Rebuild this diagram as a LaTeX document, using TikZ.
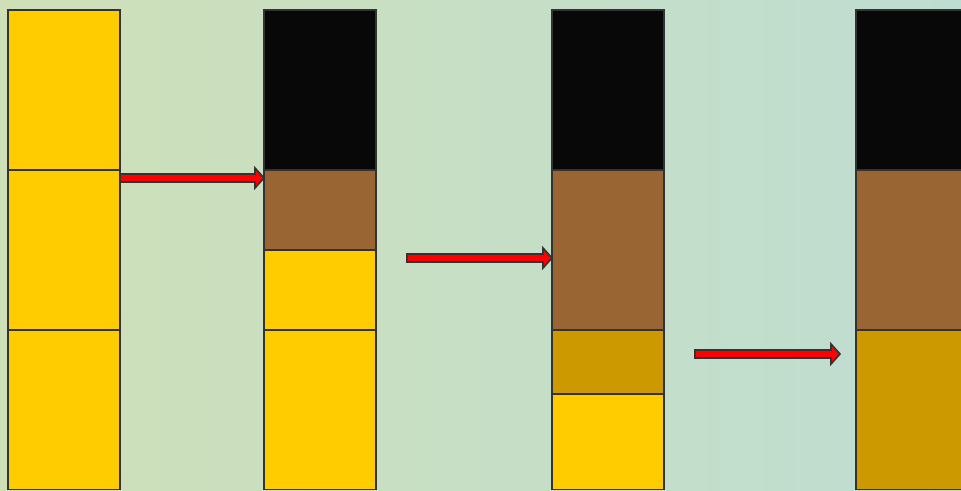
\documentclass[tikz,border=0pt]{standalone}
\usetikzlibrary{calc}
\definecolor{bggreen}{HTML}{C8E2C4}
\definecolor{bgblue}{HTML}{BEDDD2}
\definecolor{bgyel}{HTML}{CFE0B8}
\definecolor{layyellow}{HTML}{FFCC00}
\definecolor{layblack}{HTML}{080808}
\definecolor{laybrown}{HTML}{996633}
\definecolor{laygold}{HTML}{CC9900}
\definecolor{edgegray}{HTML}{333333}
\definecolor{arrowred}{HTML}{FF0000}
\tikzset{
  layer/.style={draw=edgegray, line width=1.6pt, inner sep=0pt, outer sep=0pt,
    anchor=north west, minimum width=112pt},
  fatarrow/.style={fill=arrowred, draw=edgegray, line width=1.6pt, line join=miter}
}
\newcommand\fatarrowpath[2]{%
  \draw[fatarrow] ($(#1)+(0,-4)$) -- ($(#2)+(-9,-4)$) -- ($(#2)+(-9,-10)$) -- (#2)
    -- ($(#2)+(-9,10)$) -- ($(#2)+(-9,4)$) -- ($(#1)+(0,4)$) -- cycle;}
\begin{document}
\begin{tikzpicture}[x=1pt,y=-1pt]
\useasboundingbox (0,0) rectangle (961,490);
\clip (0,0) rectangle (961,490);
\shade[left color=bgyel, middle color=bggreen, right color=bgblue] (0,0) rectangle (961,490);
% column 1
\node[layer, fill=layyellow, minimum height=160pt] (c1a) at (8,10) {};
\node[layer, fill=layyellow, minimum height=160pt] (c1b) at (8,170) {};
\node[layer, fill=layyellow, minimum height=159.5pt] (c1c) at (8,330) {};
% column 2
\node[layer, fill=layblack, minimum height=160pt] (c2a) at (264,10) {};
\node[layer, fill=laybrown, minimum height=80pt] (c2b) at (264,170) {};
\node[layer, fill=layyellow, minimum height=80pt] (c2c) at (264,250) {};
\node[layer, fill=layyellow, minimum height=159.5pt] (c2d) at (264,330) {};
% column 3
\node[layer, fill=layblack, minimum height=160pt] (c3a) at (552,10) {};
\node[layer, fill=laybrown, minimum height=160pt] (c3b) at (552,170) {};
\node[layer, fill=laygold, minimum height=64pt] (c3c) at (552,330) {};
\node[layer, fill=layyellow, minimum height=95.5pt] (c3d) at (552,394) {};
% column 4
\node[layer, fill=layblack, minimum height=160pt] (c4a) at (856,10) {};
\node[layer, fill=laybrown, minimum height=160pt] (c4b) at (856,170) {};
\node[layer, fill=laygold, minimum height=159.5pt] (c4c) at (856,330) {};
% arrows
\coordinate (a1s) at (c1b.north east |- 0,178);
\coordinate (a1e) at (c2b.north west |- 0,178);
\coordinate (a2s) at (407,258);
\coordinate (a2e) at (c3b.west |- 0,258);
\coordinate (a3s) at (695,354);
\coordinate (a3e) at (840,354);
\fatarrowpath{a1s}{a1e}
\fatarrowpath{a2s}{a2e}
\fatarrowpath{a3s}{a3e}
\end{tikzpicture}
\end{document}
